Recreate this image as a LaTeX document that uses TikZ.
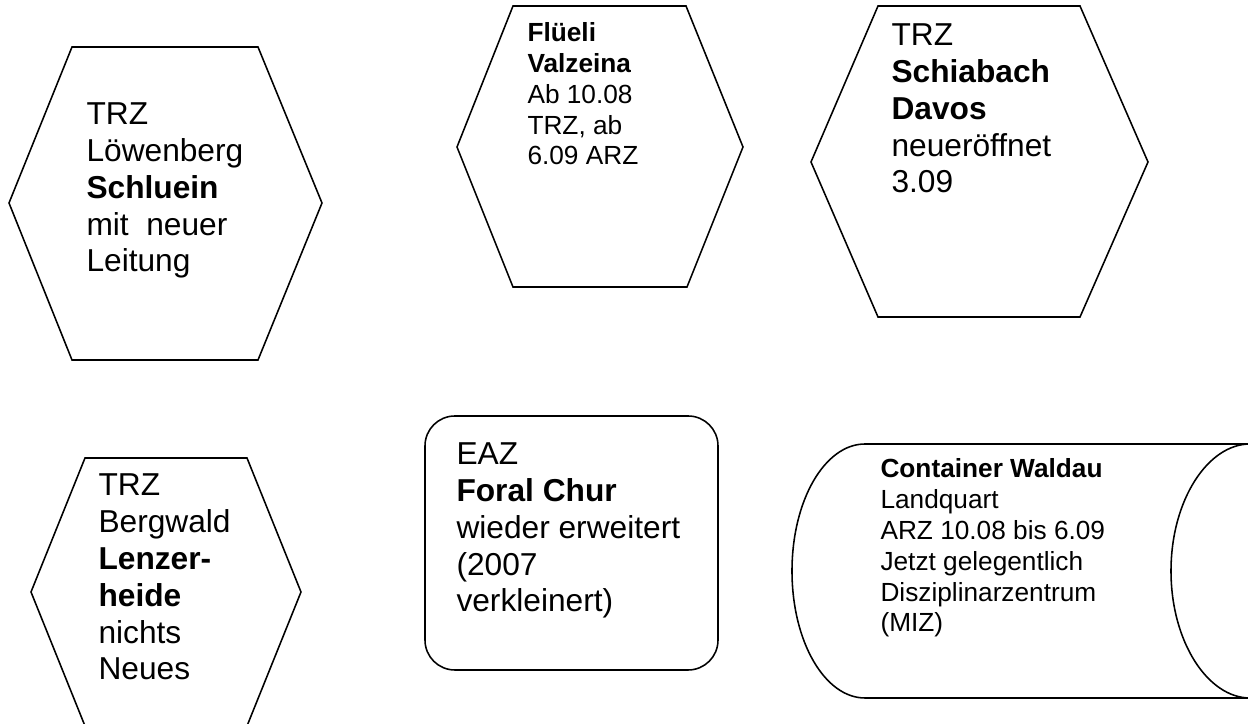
\documentclass[tikz,border=0pt]{standalone}
\usepackage{fontspec}
\setmainfont{Liberation Sans}
\usetikzlibrary{positioning}

\tikzset{
	shapeline/.style={draw, line width=0.6pt, line join=miter},
	bigtext/.style={font=\fontsize{12.2}{14.2}\selectfont, align=left, anchor=base west, inner sep=0pt},
	smalltext/.style={font=\fontsize{10.1}{11.9}\selectfont, align=left, anchor=base west, inner sep=0pt}
}

\begin{document}
\begin{tikzpicture}[x=0.385pt, y=-0.385pt]
	\useasboundingbox (0,0) rectangle (1248,724);
	\draw[shapeline] (72,47) -- (258,47) -- (322,203) -- (258,360) -- (72,360) -- (9,203) -- cycle;
	\draw[shapeline] (513,6) -- (686,6) -- (743,147) -- (687,287) -- (513,287) -- (457,147) -- cycle;
	\draw[shapeline] (878,6) -- (1080,6) -- (1148,162) -- (1080,317) -- (878,317) -- (811,162) -- cycle;
	\draw[shapeline] (85,458) -- (247,458) -- (301,592) -- (247,726) -- (85,726) -- (31,592) -- cycle;
	\draw[shapeline, rounded corners=11.5pt] (425,416) rectangle (718,670);
	\draw[shapeline] (865,444) -- (1250,444) .. controls (1208,444) and (1171,500) .. (1171,571)
		.. controls (1171,642) and (1208,698) .. (1250,698) -- (865,698)
		.. controls (825,698) and (792,642) .. (792,571)
		.. controls (792,500) and (825,444) .. (865,444) -- cycle;
	\node[bigtext] (loewenberg) at (86,272) {TRZ\\Löwenberg\\\textbf{Schluein}\\mit\ \ neuer\\Leitung};
	\node[smalltext] (flueeli) at (527,165) {\textbf{Flüeli}\\\textbf{Valzeina}\\Ab 10.08\\TRZ, ab\\6.09 ARZ};
	\node[bigtext] (schiabach) at (891,193) {TRZ\\\textbf{Schiabach}\\\textbf{Davos}\\neueröffnet\\3.09};
	\node[bigtext] (bergwald) at (98,680) {TRZ\\Bergwald\\\textbf{Lenzer-}\\\textbf{heide}\\nichts\\Neues};
	\node[bigtext] (foral) at (456,612) {EAZ\\\textbf{Foral Chur}\\wieder erweitert\\(2007\\verkleinert)};
	\node[smalltext] (waldau) at (880,632) {\textbf{Container Waldau}\\Landquart\\ARZ 10.08 bis 6.09\\Jetzt gelegentlich\\Disziplinarzentrum\\(MIZ)};
\end{tikzpicture}
\end{document}
